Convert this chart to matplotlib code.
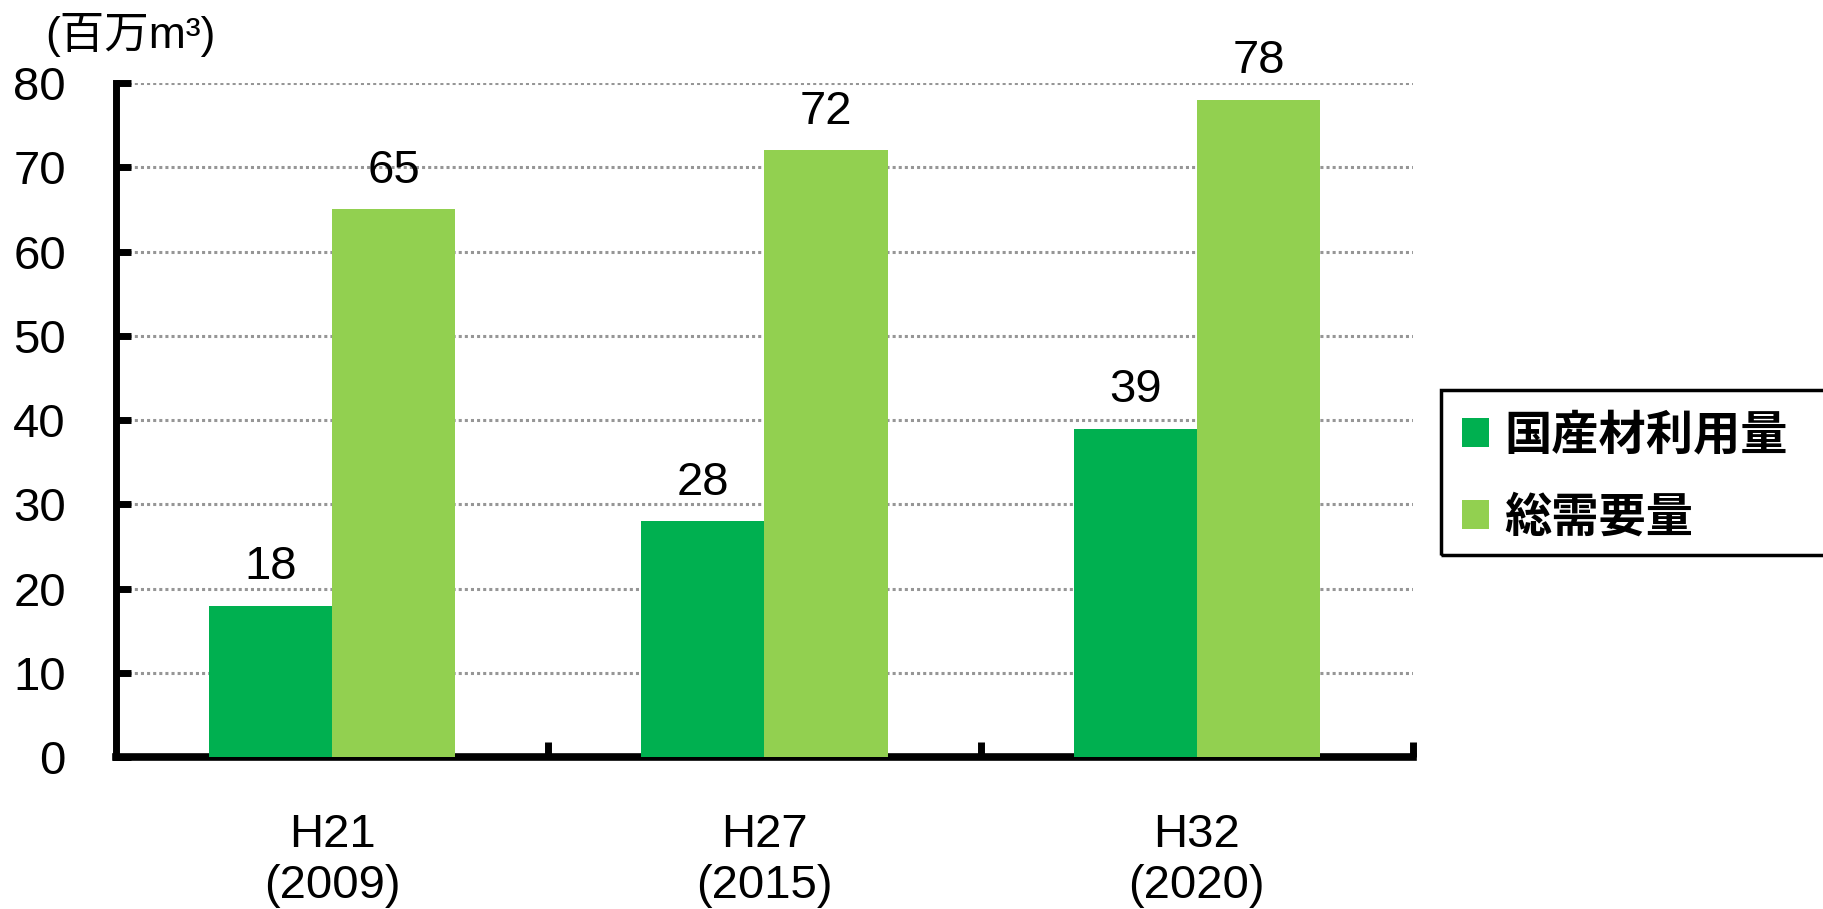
import matplotlib.pyplot as plt
from matplotlib.patches import Patch, Rectangle

plt.rcParams['font.family'] = ['Liberation Sans', 'Noto Sans CJK JP']

categories = ['H21\n(2009)', 'H27\n(2015)', 'H32\n(2020)']
domestic = [18, 28, 39]
total = [65, 72, 78]
series_names = ['国産材利用量', '総需要量']
colors = ['#00B050', '#92D050']

W, H = 1823, 909
fig = plt.figure(figsize=(W / 100, H / 100), dpi=100)
ax = fig.add_axes([0.0636, 0.167, 0.7115, 0.7417])

x = list(range(len(categories)))
w = 0.285
b1 = ax.bar([i - w / 2 for i in x], domestic, w, color=colors[0], zorder=3)
b2 = ax.bar([i + w / 2 for i in x], total, w, color=colors[1], zorder=3)

for bars, vals in ((b1, domestic), (b2, total)):
    for r, v in zip(bars, vals):
        ax.annotate(str(v), (r.get_x() + r.get_width() / 2, v), xytext=(0, 12),
                    textcoords='offset points', ha='center', va='bottom', fontsize=34)

ax.set_xlim(-0.5, 2.5)
ax.set_ylim(0, 80)
ax.set_yticks(range(0, 81, 10))
ax.yaxis.grid(True, linestyle=(0, (1, 1)), color='#969696', linewidth=2.2)
ax.set_axisbelow(True)

# kategoriegrenzen als ticks, labels in der mitte
ax.set_xticks([0.5, 1.5, 2.5])
ax.set_xticklabels([])
ax.set_xticks(x, minor=True)
ax.set_xticklabels(categories, minor=True, fontsize=34)
ax.tick_params(axis='x', which='major', direction='in', length=11, width=5)
ax.tick_params(axis='x', which='minor', length=0, pad=40)
ax.tick_params(axis='y', direction='in', length=11, width=5, labelsize=34, pad=36)

for s in ['top', 'right']:
    ax.spines[s].set_visible(False)
ax.spines['left'].set_linewidth(5)
ax.spines['bottom'].set_linewidth(5.5)

fig.text(0.025, 0.9615, '(百万m³)', fontsize=32, ha='left', va='center')

# legende ohne eigenen rahmen, rahmen ragt rechts aus dem bild
handles = [Patch(facecolor=c, edgecolor='none') for c in colors]
leg = fig.legend(handles, series_names, loc='upper left', bbox_to_anchor=(0.7905, 0.571),
                 borderaxespad=0, frameon=False,
                 handlelength=0.57, handleheight=0.57, handletextpad=0.32,
                 labelspacing=0.72, borderpad=0.45,
                 prop={'family': 'Noto Sans CJK JP', 'weight': 'bold', 'size': 34})
fig.patches.append(Rectangle((1441 / W, 1 - 555 / H), 420 / W, 165 / H, transform=fig.transFigure,
                             fill=False, edgecolor='black', linewidth=2.5))

fig.savefig('out.png', dpi=100)
